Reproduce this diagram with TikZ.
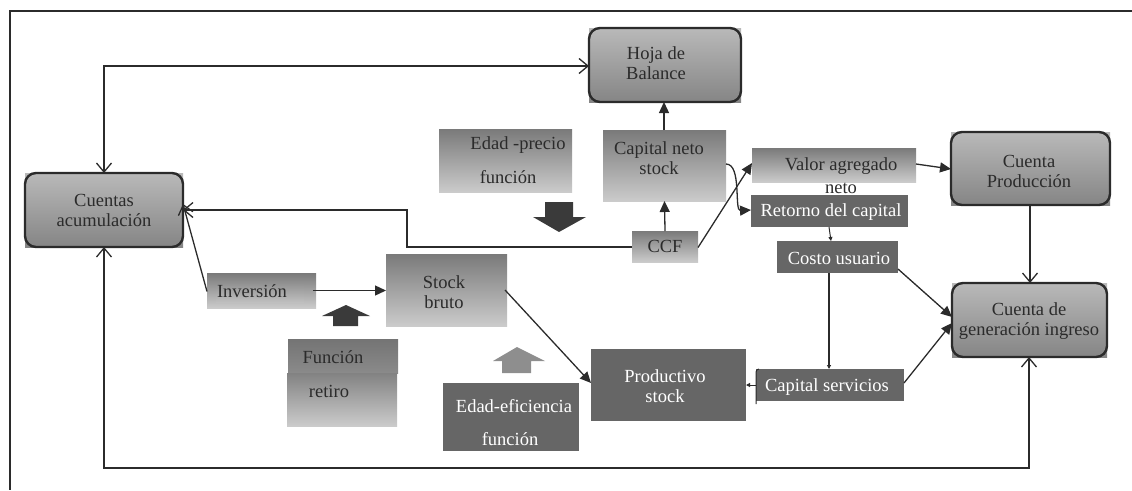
\documentclass[tikz,border=0pt]{standalone}
\usepackage{fontspec}
\setmainfont{Liberation Serif}
\usetikzlibrary{arrows.meta}

\definecolor{ink}{HTML}{2B2B2B}
\definecolor{darkbox}{HTML}{666666}
\definecolor{gtop}{HTML}{7A7A7A}
\definecolor{gbot}{HTML}{CBCBCB}
\definecolor{rtop}{HTML}{B9B9B9}
\definecolor{rbot}{HTML}{858585}
\definecolor{blockdark}{HTML}{3A3A3A}
\definecolor{blocklight}{HTML}{8E8E8E}

\begin{document}
\begin{tikzpicture}[x=1pt,y=-1pt,
  every node/.style={font=\fontsize{18.5}{20}\selectfont, text=ink, inner sep=0pt, outer sep=0pt},
  rbox/.style={rectangle, top color=rtop, middle color=rtop, bottom color=rbot},
  rborder/.style={draw=ink, line width=2.4pt, rounded corners=11pt},
  gbox/.style={rectangle, top color=gtop, bottom color=gbot},
  dbox/.style={rectangle, fill=darkbox, text=white},
  txt/.style={align=center},
  conn/.style={draw=ink, line width=1.3pt},
  openhead/.style={-{Straight Barb[length=9pt,width=15pt,line width=1.3pt]}},
  bothopen/.style={{Straight Barb[length=9pt,width=15pt,line width=1.3pt]}-{Straight Barb[length=9pt,width=15pt,line width=1.3pt]}},
  solidhead/.style={-{Triangle[length=11pt,width=10pt]}},
  tinyhead/.style={-{Triangle[length=4pt,width=4pt]}}
]
\useasboundingbox (0,0) rectangle (1132,490);

% outer frame (top and left edges)
\draw[draw=ink, line width=1.6pt] (1132,11) -- (10,11) -- (10,490);

% ---- rounded account boxes ----
\node[rbox, minimum width=158, minimum height=74] (acum) at (104,210) {};
\draw[rborder] (acum.south west) rectangle (acum.north east);
\node[txt] (acumT) at (104,210) {Cuentas\\acumulación};

\node[rbox, minimum width=152, minimum height=74] (hoja) at (665,65) {};
\draw[rborder] (hoja.south west) rectangle (hoja.north east);
\node[txt] (hojaT) at (656,63) {Hoja de\\Balance};

\node[rbox, minimum width=159, minimum height=73] (prod) at (1030.5,168.5) {};
\draw[rborder] (prod.south west) rectangle (prod.north east);
\node[txt] (prodT) at (1029,171) {Cuenta\\Producción};

\node[rbox, minimum width=155, minimum height=74] (gen) at (1029.5,320) {};
\draw[rborder] (gen.south west) rectangle (gen.north east);
\node[txt] (genT) at (1029,321) {Cuenta de\\generación ingreso};

% ---- shaded process boxes ----
\node[gbox, minimum width=133, minimum height=63] (epf) at (505.5,160.5) {};
\node (epfA) at (518,145) {Edad -precio};
\node (epfB) at (508,177) {función};

\node[gbox, minimum width=123, minimum height=71] (cns) at (664.5,165.5) {};
\node[txt] (cnsT) at (659,158) {Capital neto\\stock};

\node[gbox, minimum width=66, minimum height=31] (ccf) at (665,246.5) {CCF};

\node[gbox, minimum width=164, minimum height=34] (van) at (834,165) {};
\node (vanA) at (841,166) {Valor agregado};
\node (vanB) at (841,188) {neto};

\node[gbox, minimum width=109, minimum height=35] (inv) at (261.5,290.5) {};
\node[gbox, top color=gtop!80!gbot, bottom color=gbot!85!gtop, minimum width=88, minimum height=22] (invIn) at (260,291) {};
\node (invT) at (252,291) {Inversión};

\node[gbox, minimum width=121, minimum height=72] (sb) at (446.5,290) {};
\node[txt] (sbT) at (444,292) {Stock\\bruto};

\node[gbox, top color=gtop!95!black, bottom color=gtop!80!gbot, minimum width=110, minimum height=34] (frA) at (343,356) {};
\node[gbox, top color=gtop!90!gbot, minimum width=110, minimum height=53] (frB) at (342,399.5) {};
\node (frAT) at (333,357) {Función};
\node (frBT) at (329,391) {retiro};

% ---- dark boxes ----
\node[dbox, minimum width=157, minimum height=32] (ret) at (829.5,211) {};
\node[text=white] (retT) at (831,212) {Retorno del capital};

\node[dbox, minimum width=121, minimum height=32] (cu) at (837.5,257) {};
\node[text=white] (cuT) at (839,258) {Costo usuario};

\node[dbox, minimum width=148, minimum height=32] (cs) at (830,385) {};
\node[text=white] (csT) at (827,387) {Capital servicios};
\draw[draw=ink, line width=1pt] ([xshift=3pt]cs.north west) arc[start angle=90, end angle=180, radius=3pt] -- ([yshift=-3pt]cs.south west);

\node[dbox, minimum width=155, minimum height=72] (ps) at (668.5,385) {};
\node[txt, text=white] (psT) at (665,386) {Productivo\\stock};

\node[dbox, minimum width=136, minimum height=68] (eef) at (511,417) {};
\node[text=white] (eefA) at (514,406) {Edad-eficiencia};
\node[text=white] (eefB) at (510,439) {función};

% ---- block arrows ----
\fill[blockdark] (545,202) -- (573,202) -- (573,217) -- (586,217) -- (559,232) -- (533,217) -- (545,217) -- cycle;
\fill[blockdark] (333,326) -- (358,326) -- (358,316) -- (370,316) -- (346,305) -- (322,316) -- (333,316) -- cycle;
\fill[blocklight] (502,373) -- (531,373) -- (531,361) -- (545,361) -- (517,347) -- (493,361) -- (502,361) -- cycle;

% ---- connectors ----
\coordinate (topL) at (104,66);
\draw[conn, bothopen] (hoja.west |- topL) -- (topL) -- (acum.north);

\coordinate (botL) at (104,468);
\coordinate (botR) at (1029,468);
\draw[conn, bothopen] (acum.south) -- (botL) -- (botR) -- (gen.south -| botR);

\coordinate (ccfA) at (407,247);
\coordinate (ccfB) at (407,210);
\draw[conn, openhead] (ccf.west |- ccfA) -- (ccfA) -- (ccfB) -- (acum.east |- ccfB);

\draw[conn, openhead] ([yshift=-1pt]inv.west) -- ([yshift=6pt]acum.east);

\draw[conn, solidhead] ([xshift=-3pt]inv.east) -- (sb.west |- inv.east);
\draw[conn, solidhead] (505,290) -- (ps.west |- 0,383);

\draw[conn, solidhead] (ccf.north) -- (cns.south);
\draw[conn, solidhead] (cns.north -| 664,0) -- (hoja.south -| 664,0);

\draw[conn, solidhead] ([yshift=-1pt]ccf.east) -- ([yshift=2pt]van.west);
\draw[conn, solidhead] (cns.east |- 0,164) .. controls (742,164) and (734,211) .. (ret.west |- 0,210);

\draw[conn, solidhead] (van.east |- 0,164) -- (prod.west |- 0,169);

\draw[draw=ink, line width=1pt, tinyhead] (ret.south -| 829,0) -- (cu.north -| 831,0);
\draw[draw=ink, line width=2pt, tinyhead] (cu.south -| 829,0) -- (cs.north -| 829,0);
\draw[draw=ink, line width=1pt, tinyhead] (cs.west) -- (ps.east);

\draw[conn, solidhead] (898,269) -- (gen.west |- 0,317);
\draw[conn, solidhead] (904,383) -- (gen.west |- 0,323);

\draw[conn, openhead] (prod.south -| 1030,0) -- (gen.north -| 1030,0);

\end{tikzpicture}
\end{document}
